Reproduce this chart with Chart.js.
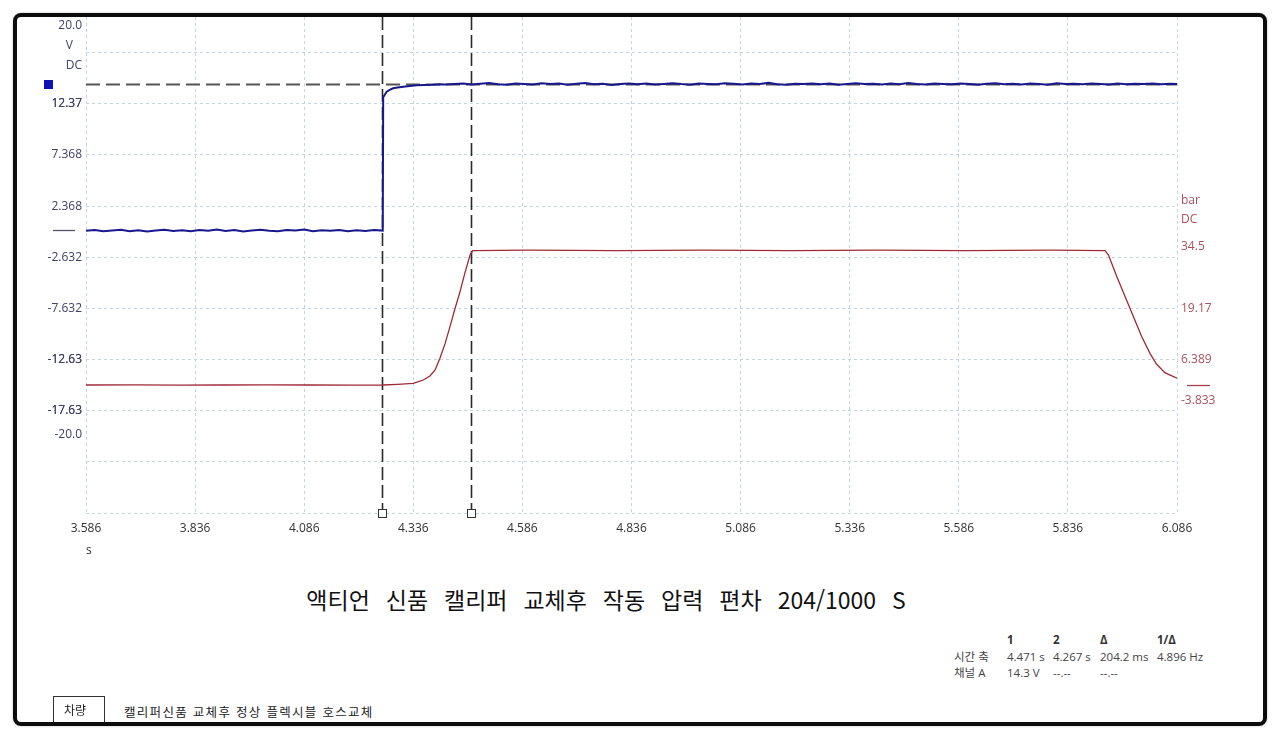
<!DOCTYPE html>
<html lang="ko">
<head>
<meta charset="utf-8">
<script src="https://cdn.jsdelivr.net/npm/chart.js@4/dist/chart.umd.min.js"></script>
<style>
  html, body { margin: 0; padding: 0; background: #fff; }
  body { width: 1280px; height: 740px; position: relative; overflow: hidden;
         font-family: 'Open Sans', 'Noto Sans', 'Noto Sans CJK KR', sans-serif; }
  #wrap { position: absolute; left: 0; top: 0; width: 1280px; height: 560px; }
  #frame { position: absolute; left: 13px; top: 13px; width: 1254px; height: 713px;
           border: 4px solid #0c0c0c; border-radius: 8px; box-sizing: border-box;
           box-shadow: 0 0 2px rgba(0,0,0,0.35); pointer-events: none; }
  .t { position: absolute; white-space: nowrap; }
  #unit-s { left: 86px; top: 541px; font-size: 12px; color: #333; }
  #title { left: 0; width: 1212px; top: 584px; text-align: center;
           font-family: 'Noto Sans CJK KR', sans-serif; font-size: 23px; line-height: 30px;
           word-spacing: 9.5px; color: #111; }
  .cell { position: absolute; white-space: nowrap; font-size: 11.5px; line-height: 14px; color: #444;
          font-family: 'Open Sans', 'Noto Sans CJK KR', sans-serif; }
  .hd { font-weight: bold; color: #333; }
  #box { position: absolute; left: 53px; top: 696px; width: 52px; height: 30px; border: 1px solid #333;
         box-sizing: border-box; font-family: 'Noto Sans CJK KR', sans-serif; font-size: 12px;
         line-height: 26px; padding-left: 10px; color: #222; }
  #note { left: 124px; top: 703px; font-family: 'Noto Sans CJK KR', sans-serif; font-size: 12.5px;
          letter-spacing: 1.3px; line-height: 18px; color: #222; }
</style>
</head>
<body>
<div id="wrap"><canvas id="c" width="1280" height="560"></canvas></div>
<div class="t" id="unit-s">s</div>
<div class="t" id="title">액티언 신품 캘리퍼 교체후 작동 압력 편차 204/1000 S</div>

<div class="cell hd" style="left:1007px;top:633px">1</div>
<div class="cell hd" style="left:1053px;top:633px">2</div>
<div class="cell hd" style="left:1100px;top:633px">Δ</div>
<div class="cell hd" style="left:1157px;top:633px">1/Δ</div>
<div class="cell" style="left:954px;top:650px">시간 축</div>
<div class="cell" style="left:1007px;top:650px">4.471 s</div>
<div class="cell" style="left:1053px;top:650px">4.267 s</div>
<div class="cell" style="left:1100px;top:650px">204.2 ms</div>
<div class="cell" style="left:1157px;top:650px">4.896 Hz</div>
<div class="cell" style="left:954px;top:666px">채널 A</div>
<div class="cell" style="left:1007px;top:666px">14.3 V</div>
<div class="cell" style="left:1053px;top:666px">--.--</div>
<div class="cell" style="left:1100px;top:666px">--.--</div>

<div id="box">차량</div>
<div class="t" id="note">캘리퍼신품 교체후 정상 플렉시블 호스교체</div>
<div id="frame"></div>

<script>
// ---------------- DATA ----------------
// time axis (s)
const timeTickLabels = ['3.586','3.836','4.086','4.336','4.586','4.836','5.086','5.336','5.586','5.836','6.086'];

// Channel A (V) axis: labelled ticks and grid lines
const voltTickLabels = ['20.0','12.37','7.368','2.368','-2.632','-7.632','-12.63','-17.63','-20.0'];
const voltGridLines = [17.368, 12.368, 7.368, 2.368, -2.632, -7.632, -12.632, -17.632, -22.632, -27.632];
const voltUnitLabels = ['V', 'DC'];

// Channel B (bar) axis
const pressTickLabels = ['34.5','19.17','6.389','-3.833'];
const pressUnitLabels = ['bar', 'DC'];

// Channel A trace (V): before step, step, steady
const voltTimeLow = [3.586,3.606,3.626,3.646,3.666,3.686,3.706,3.726,3.746,3.766,3.786,3.806,3.826,3.846,3.866,3.886,3.906,3.926,3.946,3.966,3.986,4.006,4.026,4.046,4.066,4.086,4.106,4.126,4.146,4.166,4.186,4.206,4.226,4.246,4.266];
const voltLow = [-0.05,0.02,-0.10,-0.03,0.05,-0.08,0.00,-0.12,-0.02,0.06,-0.06,0.01,-0.09,0.04,-0.04,0.08,-0.07,0.02,-0.11,-0.01,0.05,-0.05,-0.09,0.03,-0.02,0.07,-0.08,0.00,-0.04,0.04,-0.10,0.01,-0.06,0.03,-0.03];
const voltTimeStep = [4.267,4.275,4.283,4.290,4.300,4.313,4.328,4.344,4.362,4.380,4.397,4.410];
const voltStep = [13.0,13.55,13.75,13.88,13.95,14.04,14.10,14.17,14.20,14.22,14.27,14.25];
const voltTimeHigh = [4.43,4.45,4.47,4.49,4.51,4.53,4.55,4.57,4.59,4.61,4.63,4.65,4.67,4.69,4.71,4.73,4.75,4.77,4.79,4.81,4.83,4.85,4.87,4.89,4.91,4.93,4.95,4.97,4.99,5.01,5.03,5.05,5.07,5.09,5.11,5.13,5.15,5.17,5.19,5.21,5.23,5.25,5.27,5.29,5.31,5.33,5.35,5.37,5.39,5.41,5.43,5.45,5.47,5.49,5.51,5.53,5.55,5.57,5.59,5.61,5.63,5.65,5.67,5.69,5.71,5.73,5.75,5.77,5.79,5.81,5.83,5.85,5.87,5.89,5.91,5.93,5.95,5.97,5.99,6.01,6.03,6.05,6.07,6.086];
const voltHigh = [14.30,14.36,14.25,14.33,14.40,14.28,14.22,14.35,14.31,14.26,
  14.38,14.29,14.34,14.24,14.32,14.39,14.27,14.33,14.21,14.30,
  14.36,14.28,14.35,14.25,14.31,14.37,14.29,14.23,14.34,14.30,
  14.27,14.38,14.32,14.26,14.35,14.29,14.41,14.28,14.24,14.33,
  14.30,14.36,14.27,14.34,14.22,14.31,14.37,14.29,14.33,14.26,
  14.35,14.28,14.39,14.30,14.25,14.34,14.31,14.27,14.36,14.29,
  14.23,14.33,14.38,14.28,14.32,14.26,14.35,14.30,14.24,14.37,
  14.29,14.33,14.27,14.36,14.31,14.25,14.34,14.28,14.32,14.30,
  14.35,14.27,14.33,14.29];

// Channel B trace (bar)
const pressTime = [3.586,3.70,3.80,3.90,4.00,4.10,4.20,4.267,4.300,4.336,4.359,4.374,4.386,4.397,4.409,4.420,4.432,4.443,4.454,4.466,4.472,4.60,4.80,5.00,5.20,5.40,5.60,5.80,5.921,5.929,5.948,5.967,5.986,6.005,6.024,6.039,6.058,6.086];
const pressValue = [0.0,0.05,-0.05,0.0,0.05,0.0,-0.05,0.0,0.15,0.4,1.25,2.25,3.75,6.7,10.4,14.6,19.25,23.3,27.9,32.5,33.6,33.7,33.6,33.7,33.6,33.7,33.6,33.7,33.6,32.5,27.1,22.1,17.1,12.1,7.9,5.25,3.1,1.7];

// Cursors
const cursorTimes = [4.267, 4.471];
const cursorVolt = 14.3;

// ---------------- CHART ----------------
const voltTime = voltTimeLow.concat(voltTimeStep, voltTimeHigh);
const voltValue = voltLow.concat(voltStep, voltHigh);

const tickFont = { family: "'Open Sans', 'Noto Sans', sans-serif", size: 12 };
const voltColor = '#40406a';
const pressColor = '#a8505e';
const gridColor = '#c6d4e2';

const timeTickVals = timeTickLabels.map(Number);
const voltTickVals = voltTickLabels.map(Number);
const pressTickVals = pressTickLabels.map(Number);
const near = (a, b) => Math.abs(a - b) < 0.01;

const voltAllTicks = Array.from(new Set(voltGridLines.concat(voltTickVals))).sort((a, b) => b - a);

const overlay = {
  id: 'overlay',
  beforeDatasetsDraw(chart) {
    const { ctx, chartArea: a, scales } = chart;
    const x = scales.x, yV = scales.yV;
    ctx.save();
    // horizontal cursor
    const hy = Math.round(yV.getPixelForValue(cursorVolt)) + 0.5;
    ctx.strokeStyle = '#555';
    ctx.lineWidth = 2;
    ctx.setLineDash([14, 6]);
    ctx.beginPath(); ctx.moveTo(a.left, hy); ctx.lineTo(a.right, hy); ctx.stroke();
    // vertical cursors
    ctx.strokeStyle = '#2a2a2a';
    ctx.lineWidth = 1.6;
    ctx.setLineDash([13, 5]);
    cursorTimes.forEach(t => {
      const px = Math.round(x.getPixelForValue(t)) - 0.5;
      ctx.beginPath(); ctx.moveTo(px, a.top); ctx.lineTo(px, a.bottom - 4); ctx.stroke();
    });
    ctx.restore();
  },
  afterDraw(chart) {
    const { ctx, chartArea: a, scales } = chart;
    const x = scales.x, yV = scales.yV, yP = scales.yP;
    ctx.save();
    // cursor handles at bottom
    ctx.setLineDash([]);
    ctx.lineWidth = 1;
    cursorTimes.forEach(t => {
      const px = Math.round(x.getPixelForValue(t)) - 1;
      ctx.fillStyle = '#fff';
      ctx.strokeStyle = '#333';
      ctx.fillRect(px - 4, a.bottom - 4, 9, 9);
      ctx.strokeRect(px - 3.5, a.bottom - 3.5, 8, 8);
    });
    // channel A marker at cursor level
    const hy = yV.getPixelForValue(cursorVolt);
    ctx.fillStyle = '#1212b4';
    ctx.fillRect(44, Math.round(hy) - 4, 9, 9);
    // zero markers
    ctx.lineWidth = 1.3;
    ctx.strokeStyle = '#55556a';
    const z1 = Math.round(yV.getPixelForValue(0)) + 0.5;
    ctx.beginPath(); ctx.moveTo(53, z1); ctx.lineTo(75, z1); ctx.stroke();
    ctx.strokeStyle = '#a0404c';
    const z2 = Math.round(yP.getPixelForValue(0)) + 0.5;
    ctx.beginPath(); ctx.moveTo(a.right + 10, z2); ctx.lineTo(a.right + 33, z2); ctx.stroke();
    // unit labels
    ctx.font = "12px 'Open Sans', 'Noto Sans', sans-serif";
    ctx.textBaseline = 'middle';
    ctx.fillStyle = voltColor;
    const topV = yV.getPixelForValue(voltTickVals[0]);
    const dcW = ctx.measureText(voltUnitLabels[1]).width;
    ctx.textAlign = 'left';
    voltUnitLabels.forEach((s, i) => ctx.fillText(s, a.left - 4 - dcW, topV + 20 * (i + 1)));
    ctx.fillStyle = pressColor;
    const topP = yP.getPixelForValue(pressTickVals[0]);
    pressUnitLabels.forEach((s, i) => ctx.fillText(s, a.right + 4, topP - 46 + 19 * i));
    ctx.restore();
  }
};

new Chart(document.getElementById('c'), {
  type: 'line',
  data: {
    datasets: [
      {
        label: '채널 B',
        data: pressTime.map((t, i) => ({ x: t, y: pressValue[i] })),
        yAxisID: 'yP',
        borderColor: '#a02a36',
        borderWidth: 1.3,
        pointRadius: 0,
        tension: 0
      },
      {
        label: '채널 A',
        data: voltTime.map((t, i) => ({ x: t, y: voltValue[i] })),
        yAxisID: 'yV',
        borderColor: '#18188e',
        borderWidth: 2,
        pointRadius: 0,
        tension: 0
      }
    ]
  },
  options: {
    responsive: false,
    animation: false,
    events: [],
    layout: { padding: { top: 17, left: 0, right: 0, bottom: 0 } },
    plugins: { legend: { display: false }, tooltip: { enabled: false } },
    scales: {
      x: {
        type: 'linear',
        min: timeTickVals[0],
        max: timeTickVals[timeTickVals.length - 1],
        afterBuildTicks: s => { s.ticks = timeTickVals.map(v => ({ value: v })); },
        afterFit: s => { s.height = 47; },
        ticks: {
          autoSkip: false, maxRotation: 0, padding: 8, color: '#333', font: tickFont,
          callback: (v) => { const i = timeTickVals.findIndex(t => near(t, v)); return i >= 0 ? timeTickLabels[i] : ''; }
        },
        grid: { color: gridColor, drawTicks: false, lineWidth: 1 },
        border: { display: false, dash: [3, 3] }
      },
      yV: {
        type: 'linear',
        position: 'left',
        min: -27.632,
        max: 20.85,
        afterBuildTicks: s => { s.ticks = voltAllTicks.map(v => ({ value: v })); },
        afterFit: s => { s.width = 86; },
        ticks: {
          autoSkip: false, padding: 4, color: voltColor, font: tickFont,
          callback: (v) => { const i = voltTickVals.findIndex(t => near(t, v)); return i >= 0 ? voltTickLabels[i] : ''; }
        },
        grid: {
          drawTicks: false, lineWidth: 1,
          color: (c) => (c.tick && voltGridLines.some(g => near(g, c.tick.value))) ? gridColor : 'rgba(0,0,0,0)'
        },
        border: { display: false, dash: [3, 3] }
      },
      yP: {
        type: 'linear',
        position: 'right',
        min: -32,
        max: 92,
        afterBuildTicks: s => { s.ticks = pressTickVals.map(v => ({ value: v })); },
        afterFit: s => { s.width = 103; },
        ticks: {
          autoSkip: false, padding: 4, color: pressColor, font: tickFont,
          callback: (v) => { const i = pressTickVals.findIndex(t => near(t, v)); return i >= 0 ? pressTickLabels[i] : ''; }
        },
        grid: { display: false, drawTicks: false },
        border: { display: false }
      }
    }
  },
  plugins: [overlay]
});
</script>
</body>
</html>
